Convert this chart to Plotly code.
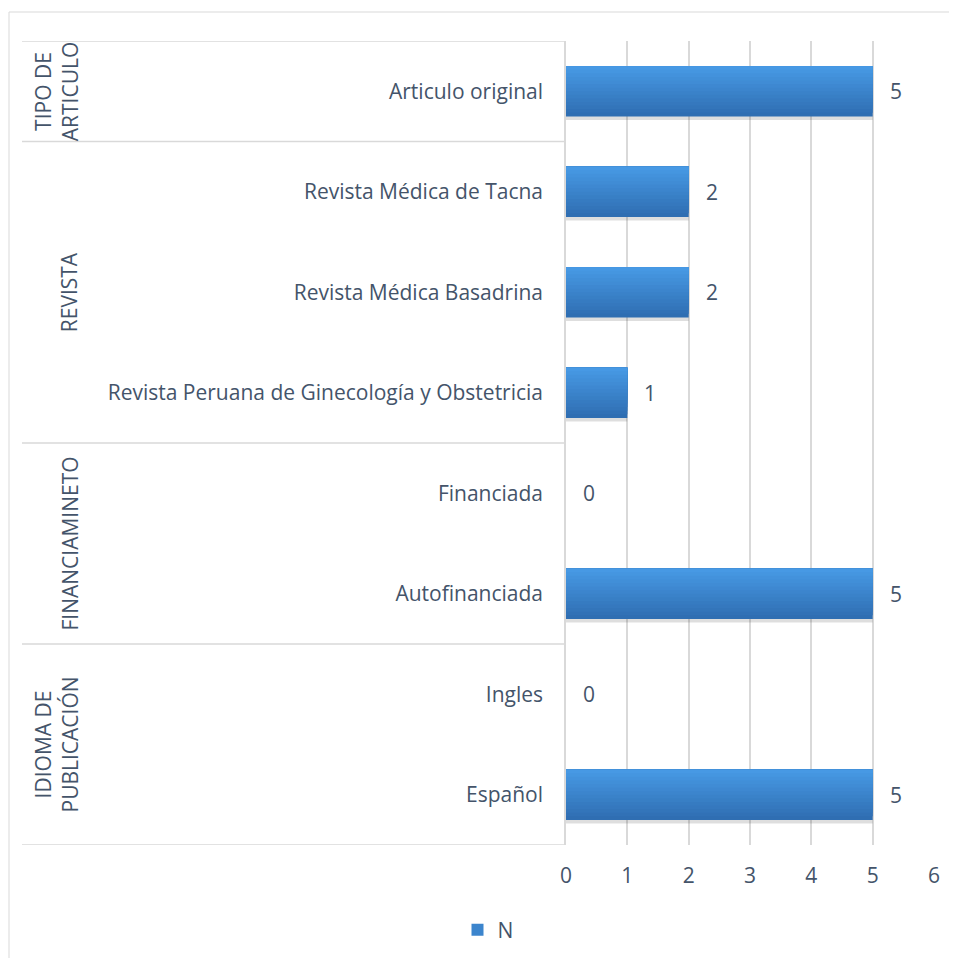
import plotly.graph_objects as go

# ---- data (top of chart first) ----
groups = ["TIPO DE<br>ARTICULO", "REVISTA", "FINANCIAMINETO", "IDIOMA DE<br>PUBLICACIÓN"]
group_items = [
    ["Articulo original"],
    ["Revista Médica de Tacna", "Revista Médica Basadrina", "Revista Peruana de Ginecología y Obstetricia"],
    ["Financiada", "Autofinanciada"],
    ["Ingles", "Español"],
]
group_values = [
    [5],
    [2, 2, 1],
    [0, 5],
    [0, 5],
]
series_name = "N"
x_ticks = [0, 1, 2, 3, 4, 5, 6]

# ---- build bottom-to-top order for categorical y axis ----
categories = []
values = []
for items, vals in zip(group_items, group_values):
    categories.extend(items)
    values.extend(vals)
categories = categories[::-1]
values = values[::-1]
n = len(categories)

FONT = "Open Sans"
FS = 21
TXT = "#44546a"
GRID = "#d9d9d9"
TOP_RGB = (0x47, 0x99, 0xe4)
BOT_RGB = (0x2f, 0x6e, 0xb2)

OFF = 8  # page body margin
W, H = 957 - OFF, 958 - OFF
L, T = 566 - OFF, 41 - OFF
R = W - (934 - OFF)
B = H - (845 - OFF)
pw, ph = W - L - R, H - T - B


def px_to_paper_x(px):
    return (px - OFF - L) / pw


def px_to_paper_y(py):
    return (H - B - (py - OFF)) / ph


BAR_W = 0.5
fig = go.Figure()
# soft shadow under bars
fig.add_trace(go.Bar(
    x=values, y=categories, orientation="h", width=BAR_W, offset=-BAR_W / 2 - 0.035,
    marker=dict(color="rgba(0,0,0,0.13)", line=dict(width=0)),
    showlegend=False, hoverinfo="skip",
))
# vertical gradient built from stacked layers (bottom dark -> top light)
NL = 14
for i in range(NL):
    t = i / (NL - 1)
    col = "rgb(%d,%d,%d)" % tuple(round(b + (a - b) * t) for a, b in zip(TOP_RGB, BOT_RGB))
    w = BAR_W * (NL - i) / NL
    fig.add_trace(go.Bar(
        x=values, y=categories, orientation="h", name=series_name,
        width=w, offset=BAR_W / 2 - w,
        marker=dict(color=col, line=dict(width=0)),
        showlegend=(i == NL // 2), hoverinfo="x+y" if i == 0 else "skip",
    ))

annotations = []
for v, c in zip(values, categories):
    annotations.append(dict(
        x=v, y=c, xref="x", yref="y", text=str(v), showarrow=False,
        xanchor="left", xshift=15, font=dict(family=FONT, size=FS, color=TXT),
    ))

shapes = []
# outer chart frame
shapes.append(dict(type="rect", xref="paper", yref="paper",
                   x0=px_to_paper_x(9), x1=px_to_paper_x(1000),
                   y0=px_to_paper_y(1000), y1=px_to_paper_y(12),
                   line=dict(color=GRID, width=1), layer="below"))
# group dividers
boundary = -0.5
dividers = [boundary]
group_centers = []
for items in reversed(group_items):
    start = boundary
    boundary += len(items)
    dividers.append(boundary)
    group_centers.append((start + boundary) / 2)
group_centers = group_centers[::-1]
for d in dividers:
    shapes.append(dict(type="line", xref="paper", yref="y",
                       x0=px_to_paper_x(22), x1=0, y0=d, y1=d,
                       line=dict(color=GRID, width=1.5)))

for g, yc in zip(groups, group_centers):
    nlines = g.count("<br>") + 1
    cx = 69 - 13 * (nlines - 1)
    annotations.append(dict(
        x=px_to_paper_x(cx), y=yc, xref="paper", yref="y", text=g,
        showarrow=False, textangle=-90, xanchor="center", yanchor="middle",
        font=dict(family=FONT, size=FS, color=TXT),
    ))

fig.update_layout(
    width=W, height=H,
    margin=dict(l=L, r=R, t=T, b=B, autoexpand=False),
    paper_bgcolor="white", plot_bgcolor="white",
    font=dict(family=FONT, size=FS, color=TXT),
    xaxis=dict(range=[0, 6], tickvals=x_ticks, showgrid=True, gridcolor=GRID,
               gridwidth=1.5, zeroline=False, showline=False, ticks="",
               ticklabelstandoff=16, tickfont=dict(family=FONT, size=FS, color=TXT),
               fixedrange=True),
    yaxis=dict(type="category", categoryorder="array", categoryarray=categories,
               range=[-0.5, n - 0.5], showgrid=False, zeroline=False,
               showline=True, linecolor=GRID, linewidth=1.5, ticks="",
               ticklabelstandoff=17, tickfont=dict(family=FONT, size=FS, color=TXT),
               fixedrange=True),
    barmode="overlay",
    showlegend=True,
    legend=dict(orientation="h", x=px_to_paper_x(488), xanchor="center",
                y=px_to_paper_y(930), yanchor="middle",
                font=dict(family=FONT, size=FS, color=TXT),
                itemwidth=30, bgcolor="rgba(0,0,0,0)"),
    annotations=annotations,
    shapes=shapes,
)

fig.write_html("out.html")
